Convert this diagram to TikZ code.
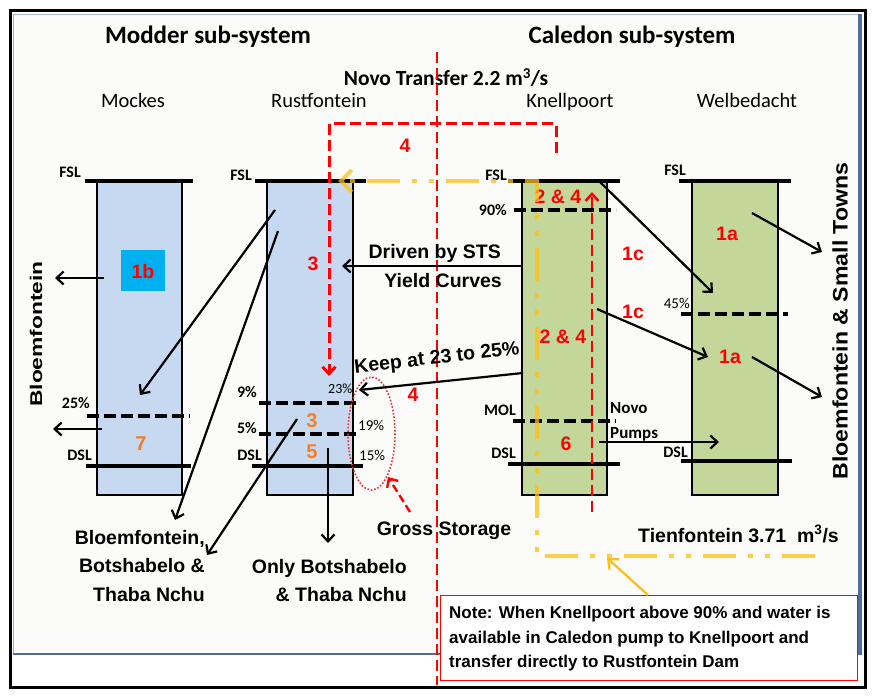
\documentclass[tikz,border=0pt]{standalone}
\usepackage{fontspec}
\setmainfont{Liberation Sans}
\newfontfamily\calfont{Carlito}
\usetikzlibrary{arrows.meta}
\definecolor{resblue}{RGB}{198,217,241}
\definecolor{resgreen}{RGB}{196,215,155}
\definecolor{cyanbox}{RGB}{0,176,240}
\definecolor{orangenum}{RGB}{247,125,35}
\definecolor{ylwc}{RGB}{255,190,20}
\definecolor{panelc}{RGB}{251,251,249}
\definecolor{steel}{RGB}{79,110,155}
\definecolor{panelline}{RGB}{165,180,205}
\definecolor{dotred}{RGB}{235,50,50}
\begin{document}
\begin{tikzpicture}[x=1pt,y=-1pt,
  resv/.style={draw, line width=2.6pt, minimum width=85pt, minimum height=314pt, anchor=north west, inner sep=0pt, outer sep=0pt},
  lvl/.style={line width=3.8pt},
  dlvl/.style={line width=3.8pt, dash pattern=on 12pt off 5pt},
  arr/.style={line width=2.2pt, -{Straight Barb[length=7pt,width=13pt]}},
  rnum/.style={text=red, font=\bfseries\fontsize{19.5}{19.5}\selectfont, inner sep=0pt, anchor=base},
  onum/.style={text=orangenum, font=\bfseries\fontsize{20}{20}\selectfont, inner sep=0pt, anchor=base},
  lab/.style={font=\calfont\bfseries\fontsize{16}{16}\selectfont, inner sep=0pt, anchor=base east},
  pct/.style={font=\calfont\fontsize{15}{15}\selectfont, inner sep=0pt, anchor=base west},
  bigt/.style={font=\bfseries\fontsize{19.5}{19.5}\selectfont, inner sep=0pt},
  ttl/.style={font=\calfont\bfseries\fontsize{25}{25}\selectfont, inner sep=0pt, anchor=base},
  col/.style={font=\calfont\fontsize{20.5}{20.5}\selectfont, inner sep=0pt, anchor=base},
  reddash/.style={draw=red, line width=3pt, dash pattern=on 11pt off 5pt},
  redarr/.style={reddash, -{Straight Barb[length=7pt,width=13pt]}},
  ylw/.style={draw=ylwc, line width=4pt, dash pattern=on 33pt off 12pt on 5pt off 12pt on 5pt off 12pt, draw opacity=.75},
  notet/.style={font=\bfseries\fontsize{17}{17}\selectfont, inner sep=0pt, anchor=base west},
]
\useasboundingbox (0,0) rectangle (875,698);
\fill[white] (0,0) rectangle (875,698);
% frame
\fill[panelc] (13,15) rectangle (860,654);
\draw[line width=1pt, panelline] (13,654) -- (13,15) -- (860,15);
\draw[line width=1.5pt, steel] (13,654) -- (860,654);
\draw[line width=4pt, steel] (860,14) -- (860,655);
\draw[line width=3pt] (10,11) rectangle (865,687);

% titles
\node[ttl] (tmod) at (208,44) {Modder sub-system};
\node[ttl] (tcal) at (632,44) {Caledon sub-system};
\node[font=\calfont\bfseries\fontsize{21.5}{21.5}\selectfont, inner sep=0pt, anchor=base] (tnovo) at (446,86) {Novo Transfer 2.2 m\textsuperscript{3}/s};
\node[col] (cmock) at (133,108) {Mockes};
\node[col] (crust) at (319,108) {Rustfontein};
\node[col] (cknel) at (570,108) {Knellpoort};
\node[col] (cwelb) at (747,108) {Welbedacht};

% reservoirs
\node[resv, fill=resblue] (mockes) at (97,181) {};
\node[resv, fill=resblue, minimum width=86pt] (rust) at (267,181) {};
\node[resv, fill=resgreen] (knell) at (522,181) {};
\node[resv, fill=resgreen, minimum width=86pt] (welb) at (692,181) {};
\node[fill=cyanbox, minimum width=44pt, minimum height=41pt, inner sep=0pt] (box1b) at (143,270.5) {};

% level lines
\draw[lvl] (85,181) -- (193,181);
\draw[dlvl] (87,416) -- (190,416);
\draw[lvl] (86,466) -- (191,466);
\draw[lvl] (255,181) -- (366,181);
\draw[dlvl] (259,403) -- (360,403);
\draw[dlvl] (259,434) -- (360,434);
\draw[lvl] (252,466) -- (363,466);
\draw[lvl] (508,181) -- (620,181);
\draw[dlvl] (514,210) -- (616,210);
\draw[dlvl] (513,421) -- (616,421);
\draw[lvl] (508,464) -- (620,464);
\draw[lvl] (679,181) -- (791,181);
\draw[dlvl] (681,314) -- (788,314);
\draw[lvl] (681,461) -- (792,461);

% level labels
\node[lab] (fsl1) at (81,177) {FSL};
\node[lab] (p25) at (90,408) {25\%};
\node[lab] (dsl1) at (92,460) {DSL};
\node[lab] (fsl2) at (252,180) {FSL};
\node[lab] (p9) at (257,397) {9\%};
\node[lab] (p5) at (257,433) {5\%};
\node[lab] (dsl2) at (262,460) {DSL};
\node[lab] (fsl3) at (507,180) {FSL};
\node[lab] (p90) at (507,215) {90\%};
\node[lab] (mol) at (516,415) {MOL};
\node[lab] (dsl3) at (516,458) {DSL};
\node[lab] (fsl4) at (686,175) {FSL};
\node[pct, anchor=base east] (p45) at (690,308) {45\%};
\node[lab] (dsl4) at (688,457) {DSL};
\node[pct, font=\calfont\fontsize{14}{14}\selectfont] (p23) at (328,393) {23\%};
\node[pct] (p19) at (358,430) {19\%};
\node[pct] (p15) at (359,460) {15\%};
\node[font=\calfont\bfseries\fontsize{17}{17}\selectfont, inner sep=0pt, anchor=base west] (novo1) at (610,413) {Novo};
\node[font=\calfont\bfseries\fontsize{17}{17}\selectfont, inner sep=0pt, anchor=base west] (novo2) at (610,438) {Pumps};

% numbers
\node[rnum] (n1b) at (143,278) {1b};
\node[rnum] (n3a) at (313,270) {3};
\node[onum] (n7) at (141,450) {7};
\node[onum] (n3b) at (312,427) {3};
\node[onum] (n5) at (312,458) {5};
\node[rnum] (n24a) at (558,203) {2 \& 4};
\node[rnum] (n24b) at (563,343) {2 \& 4};
\node[rnum] (n1c1) at (633,260) {1c};
\node[rnum] (n1c2) at (633,318) {1c};
\node[rnum] (n1a1) at (727,240) {1a};
\node[rnum] (n1a2) at (730,363) {1a};
\node[rnum] (n6) at (566,450) {6};
\node[rnum] (n4a) at (405,152) {4};
\node[rnum] (n4b) at (413,401) {4};

% red dashed transfer lines
\coordinate (kt) at (556,153);
\coordinate (rt) at (329,376);
\draw[redarr] (kt) -- (556,124) -- (329,124) -- (rt);
\coordinate (dv1) at (437,52);
\coordinate (dv2) at (437,685);
\draw[reddash, line width=2.6pt] (dv1) -- (dv2);
\coordinate (ku1) at (592,512);
\coordinate (ku2) at (592,192);
\draw[redarr, line width=2.6pt] (ku1) -- (ku2);

% yellow Tienfontein path
\coordinate (ty1) at (815,556);
\coordinate (ty2) at (338,181);
\draw[ylw, -{Straight Barb[length=11pt,width=22pt]}] (ty1) -- (537,556) -- (537,181) -- (ty2);

% gross storage ellipse
\draw[dotred, line width=1.6pt, dash pattern=on 1.6pt off 1.8pt] (371.5,433.5) ellipse [x radius=23.5, y radius=56.5];
\node[bigt, anchor=base] (gross) at (444,535) {Gross Storage};
\coordinate (gs1) at (410,512);
\coordinate (gs2) at (388,477);
\draw[redarr, line width=2.4pt, dash pattern=on 8pt off 4pt] (gs1) -- (gs2);

% black arrows
\coordinate (a1s) at (104,278); \coordinate (a1e) at (55,278);
\draw[arr] (a1s) -- (a1e);
\coordinate (a2s) at (102,429); \coordinate (a2e) at (53,429);
\draw[arr] (a2s) -- (a2e);
\coordinate (a3s) at (275,210); \coordinate (a3e) at (140,395);
\draw[arr] (a3s) -- (a3e);
\coordinate (a4s) at (278,231); \coordinate (a4e) at (175,520);
\draw[arr] (a4s) -- (a4e);
\coordinate (a5s) at (297,419); \coordinate (a5e) at (207,555);
\draw[arr] (a5s) -- (a5e);
\coordinate (a6s) at (328,448); \coordinate (a6e) at (328,543);
\draw[arr] (a6s) -- (a6e);
\coordinate (a7s) at (522,266); \coordinate (a7e) at (342,266);
\draw[arr] (a7s) -- (a7e);
\coordinate (a8s) at (523,373); \coordinate (a8e) at (359,390);
\draw[arr] (a8s) -- (a8e);
\coordinate (a9s) at (600,182); \coordinate (a9e) at (713,293);
\draw[arr] (a9s) -- (a9e);
\coordinate (a10s) at (597,309); \coordinate (a10e) at (708,357);
\draw[arr] (a10s) -- (a10e);
\coordinate (a11s) at (599,442); \coordinate (a11e) at (719,442);
\draw[arr] (a11s) -- (a11e);
\coordinate (a12s) at (752,213); \coordinate (a12e) at (822,252);
\draw[arr] (a12s) -- (a12e);
\coordinate (a13s) at (752,357); \coordinate (a13e) at (822,397);
\draw[arr] (a13s) -- (a13e);

% texts
\node[bigt, rotate=90] (vbl) at (36,334) {\scalebox{1.34}[1]{\fontsize{17}{17}\selectfont Bloemfontein}};
\node[bigt, rotate=90] (vbst) at (840,321) {\scalebox{1.1}[1]{\fontsize{21}{21}\selectfont Bloemfontein \& Small Towns}};
\node[bigt, anchor=base east] (bb1) at (205,544) {Bloemfontein,};
\node[bigt, anchor=base east] (bb2) at (205,572) {Botshabelo \&};
\node[bigt, anchor=base east] (bb3) at (205,601) {Thaba Nchu};
\node[bigt, anchor=base east] (ob1) at (407,573) {Only Botshabelo};
\node[bigt, anchor=base east] (ob2) at (407,601) {\& Thaba Nchu};
\node[bigt, anchor=base east] (dr1) at (501,258) {Driven by STS};
\node[bigt, anchor=base east] (dr2) at (502,287) {Yield Curves};
\node[bigt, rotate=6.5] (keep) at (437,359) {Keep at 23 to 25\%};
\node[bigt, anchor=base west] (tien) at (638,542) {Tienfontein 3.71~~m\textsuperscript{3}/s};

% note
\node[draw=red, line width=1.4pt, fill=white, minimum width=417pt, minimum height=85pt, anchor=north west, inner sep=0pt] (note) at (440,595) {};
\node[notet] (nt1) at (449,618) {Note: When Knellpoort above 90\% and water is};
\node[notet] (nt2) at (449,643) {available in Caledon pump to Knellpoort and};
\node[notet] (nt3) at (449,667) {transfer directly to Rustfontein Dam};
\coordinate (na) at (607,558);
\draw[ylwc, line width=2.2pt, -{Straight Barb[length=8pt,width=14pt]}] (note.north west -| 648,595) -- (na);
\end{tikzpicture}
\end{document}
